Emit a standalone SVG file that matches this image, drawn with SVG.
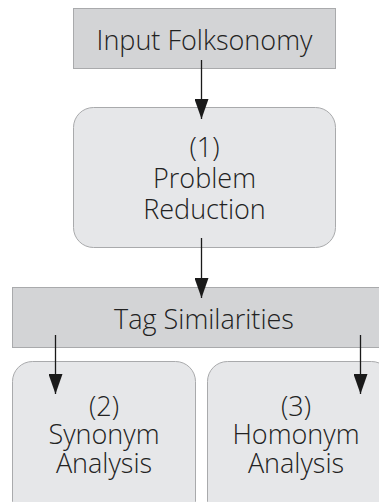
<svg xmlns="http://www.w3.org/2000/svg" width="379" height="502" viewBox="0 0 379 502">
  <defs>
    <marker id="arr" markerWidth="20" markerHeight="14" refX="20" refY="7" orient="auto" markerUnits="userSpaceOnUse" viewBox="0 0 20 14">
      <path d="M0,0 L20,7 L0,14 Z" fill="#1a1a1a"/>
    </marker>
  </defs>
  <style>
    .sq { fill: #d3d4d6; stroke: #a9aaac; stroke-width: 1; }
    .rd { fill: #e6e7e9; stroke: #a9aaac; stroke-width: 1; }
    text { font-family: "Open Sans", "Noto Sans", "DejaVu Sans", sans-serif; font-weight: 300; font-size: 27px; fill: #222; text-anchor: middle; }
    .c { stroke: #1a1a1a; stroke-width: 1.3; fill: none; }
  </style>
  <rect width="379" height="502" fill="#ffffff"/>
  <g id="input">
    <rect class="sq" x="73.5" y="8.5" width="262" height="60"/>
    <text x="204.5" y="50">Input Folksonomy</text>
  </g>
  <g id="problem">
    <rect class="rd" x="73.5" y="107.5" width="262" height="140" rx="20"/>
    <text x="204.5" y="157">(1)</text>
    <text x="204.5" y="188">Problem</text>
    <text x="204.5" y="219">Reduction</text>
  </g>
  <g id="tags">
    <rect class="sq" x="12.5" y="287.5" width="380" height="60"/>
    <text x="204" y="329">Tag Similarities</text>
  </g>
  <g id="synonym">
    <rect class="rd" x="12.5" y="361.5" width="183" height="160" rx="20"/>
    <text x="104" y="416">(2)</text>
    <text x="104" y="444">Synonym</text>
    <text x="104" y="473">Analysis</text>
  </g>
  <g id="homonym">
    <rect class="rd" x="207.5" y="361.5" width="184" height="160" rx="20"/>
    <text x="296" y="416">(3)</text>
    <text x="296" y="444">Homonym</text>
    <text x="296" y="473">Analysis</text>
  </g>
  <g id="connectors">
    <line class="c" x1="201.5" y1="60" x2="201.5" y2="119" marker-end="url(#arr)"/>
    <line class="c" x1="201.5" y1="238" x2="201.5" y2="298" marker-end="url(#arr)"/>
    <line class="c" x1="55.5" y1="335" x2="55.5" y2="394" marker-end="url(#arr)"/>
    <line class="c" x1="360.5" y1="335" x2="360.5" y2="394" marker-end="url(#arr)"/>
  </g>
</svg>
